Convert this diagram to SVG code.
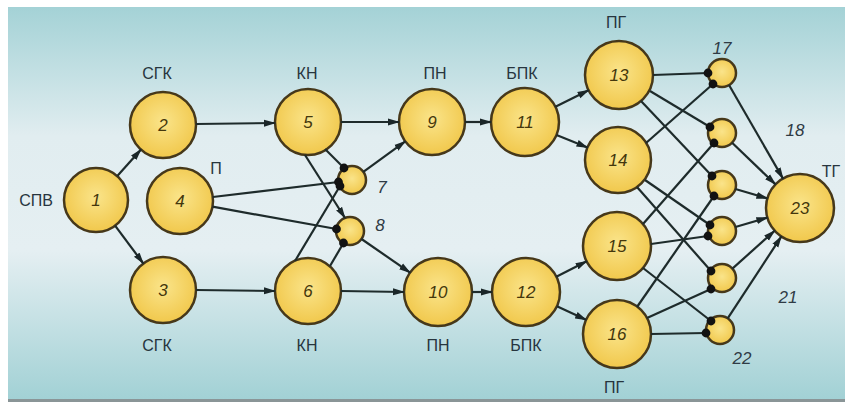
<svg xmlns="http://www.w3.org/2000/svg" width="851" height="405" viewBox="0 0 851 405">
<defs>
<linearGradient id="bg" x1="0" y1="0" x2="0" y2="1">
<stop offset="0" stop-color="#a4d2d6"/>
<stop offset="0.33" stop-color="#e1edf0"/>
<stop offset="0.62" stop-color="#e5eff2"/>
<stop offset="1" stop-color="#a2d1d5"/>
</linearGradient>
<radialGradient id="nf" cx="0.5" cy="0.45" r="0.55">
<stop offset="0" stop-color="#fae48a"/>
<stop offset="1" stop-color="#f1c84c"/>
</radialGradient>
<marker id="arr" viewBox="0 0 12 8" refX="11" refY="4" markerWidth="12" markerHeight="8" markerUnits="userSpaceOnUse" orient="auto">
<path d="M0,0.5 L12,4 L0,7.5 Z" fill="#1a2628"/>
</marker>
<marker id="dot" viewBox="0 0 10 10" refX="5" refY="5" markerWidth="10" markerHeight="10" markerUnits="userSpaceOnUse">
<circle cx="5" cy="5" r="4.4" fill="#121212"/>
</marker>
</defs>
<style>
.n circle{fill:url(#nf);stroke:#46381a;stroke-width:2.5}
.n text{font-family:"Liberation Sans",Arial,sans-serif;font-style:italic;font-size:17px;fill:#44370c;text-anchor:middle}
.e line{stroke:#1e2b2b;stroke-width:2.2}
.a{marker-end:url(#arr)}
.d{marker-end:url(#dot)}
.lb{font-family:"Liberation Sans",Arial,sans-serif;font-size:16px;fill:#27353e;text-anchor:middle}
.nl{font-family:"Liberation Sans",Arial,sans-serif;font-style:italic;font-size:17px;fill:#2f3b45;text-anchor:middle}
</style>
<rect x="0" y="0" width="851" height="405" fill="#ffffff"/>
<rect x="8" y="7" width="837" height="392" fill="url(#bg)"/>
<rect x="8" y="399" width="837" height="3" fill="#8a9597"/>

<g id="node1" class="n"><circle cx="96" cy="200" r="32"/><text x="96" y="206">1</text></g>
<g id="node2" class="n"><circle cx="163" cy="125" r="33"/><text x="163" y="131">2</text></g>
<g id="node3" class="n"><circle cx="163" cy="290" r="33"/><text x="163" y="296">3</text></g>
<g id="node4" class="n"><circle cx="180" cy="201" r="33"/><text x="180" y="207">4</text></g>
<g id="node5" class="n"><circle cx="308" cy="122" r="33"/><text x="308" y="128">5</text></g>
<g id="node6" class="n"><circle cx="308" cy="291" r="33"/><text x="308" y="297">6</text></g>
<g id="node7" class="n"><circle cx="352" cy="180" r="14"/></g>
<g id="node8" class="n"><circle cx="350" cy="231" r="14"/></g>
<g id="node9" class="n"><circle cx="432" cy="122" r="33"/><text x="432" y="128">9</text></g>
<g id="node10" class="n"><circle cx="438" cy="292" r="34"/><text x="438" y="298">10</text></g>
<g id="node11" class="n"><circle cx="525" cy="122" r="34"/><text x="525" y="128">11</text></g>
<g id="node12" class="n"><circle cx="526" cy="292" r="34"/><text x="526" y="298">12</text></g>
<g id="node13" class="n"><circle cx="619" cy="75" r="34"/><text x="619" y="81">13</text></g>
<g id="node14" class="n"><circle cx="618" cy="160" r="33"/><text x="618" y="166">14</text></g>
<g id="node15" class="n"><circle cx="617" cy="246" r="34"/><text x="617" y="252">15</text></g>
<g id="node16" class="n"><circle cx="617" cy="334" r="34"/><text x="617" y="340">16</text></g>
<g id="node17" class="n"><circle cx="722" cy="73" r="14"/></g>
<g id="node18" class="n"><circle cx="722" cy="133" r="14"/></g>
<g id="node19" class="n"><circle cx="722" cy="185" r="14"/></g>
<g id="node20" class="n"><circle cx="722" cy="231" r="14"/></g>
<g id="node21" class="n"><circle cx="722" cy="278" r="14"/></g>
<g id="node22" class="n"><circle cx="720" cy="330" r="14"/></g>
<g id="node23" class="n"><circle cx="800" cy="208" r="34"/><text x="800" y="214">23</text></g>

<g id="connectors" class="e">
<line class="a" x1="117.3" y1="176.1" x2="141" y2="149.6"/>
<line class="a" x1="115.1" y1="225.7" x2="143.3" y2="263.5"/>
<line class="a" x1="196" y1="124" x2="275" y2="123"/>
<line class="a" x1="196" y1="290" x2="275" y2="291"/>
<line class="a" x1="341" y1="122" x2="399" y2="122"/>
<line class="a" x1="341" y1="291" x2="404" y2="292"/>
<line class="a" x1="465" y1="122" x2="491" y2="122"/>
<line class="a" x1="472" y1="292" x2="492" y2="292"/>
<line class="a" x1="555.4" y1="106.8" x2="588.6" y2="90.2"/>
<line class="a" x1="556.5" y1="134.9" x2="587.5" y2="147.5"/>
<line class="a" x1="556.3" y1="276.7" x2="586.7" y2="261.3"/>
<line class="a" x1="556.9" y1="306.2" x2="586.1" y2="319.8"/>
<line class="a" x1="363.3" y1="171.8" x2="405.3" y2="141.4"/>
<line class="a" x1="361.5" y1="239" x2="410.1" y2="272.6"/>
<line class="a" x1="305" y1="155" x2="345" y2="218"/>
<line class="d" x1="325" y1="149" x2="344" y2="168"/>
<line class="d" x1="212.8" y1="197" x2="338.5" y2="182"/>
<line class="d" x1="295" y1="261" x2="340" y2="186"/>
<line class="d" x1="212.5" y1="206.7" x2="336.5" y2="229"/>
<line class="d" x1="330" y1="266" x2="343.5" y2="243"/>
<line class="d" x1="653" y1="75" x2="708" y2="73"/>
<line class="d" x1="650" y1="91" x2="710" y2="127"/>
<line class="d" x1="641" y1="101" x2="712" y2="176"/>
<line class="d" x1="646" y1="143" x2="713" y2="84"/>
<line class="d" x1="645" y1="180" x2="710" y2="225"/>
<line class="d" x1="637" y1="187" x2="711" y2="271"/>
<line class="d" x1="643" y1="224" x2="714" y2="143"/>
<line class="d" x1="651" y1="244" x2="708" y2="236"/>
<line class="d" x1="643" y1="268" x2="711" y2="321"/>
<line class="d" x1="637" y1="307" x2="714" y2="196"/>
<line class="d" x1="647" y1="318" x2="711" y2="289"/>
<line class="d" x1="651" y1="334" x2="706" y2="333"/>
<line class="a" x1="729" y1="85" x2="783" y2="178.6"/>
<line class="a" x1="732.1" y1="142.7" x2="775.5" y2="184.4"/>
<line class="a" x1="735.4" y1="189" x2="767.4" y2="198.4"/>
<line class="a" x1="735.4" y1="227" x2="767.4" y2="217.6"/>
<line class="a" x1="732.4" y1="268.6" x2="774.7" y2="230.7"/>
<line class="a" x1="727.7" y1="318.3" x2="781.4" y2="236.4"/>
</g>

<g id="labels">
<text class="lb" x="36" y="206">СПВ</text>
<text class="lb" x="157" y="79">СГК</text>
<text class="lb" x="157" y="351">СГК</text>
<text class="lb" x="216" y="174">П</text>
<text class="lb" x="307" y="79">КН</text>
<text class="lb" x="307" y="351">КН</text>
<text class="lb" x="435" y="79">ПН</text>
<text class="lb" x="438" y="351">ПН</text>
<text class="lb" x="522" y="79">БПК</text>
<text class="lb" x="526" y="351">БПК</text>
<text class="lb" x="616" y="28">ПГ</text>
<text class="lb" x="614" y="393">ПГ</text>
<text class="lb" x="831" y="177">ТГ</text>
<text class="nl" x="382" y="193">7</text>
<text class="nl" x="380" y="231">8</text>
<text class="nl" x="722" y="54">17</text>
<text class="nl" x="795" y="136">18</text>
<text class="nl" x="788" y="303">21</text>
<text class="nl" x="742" y="364">22</text>
</g>
</svg>
